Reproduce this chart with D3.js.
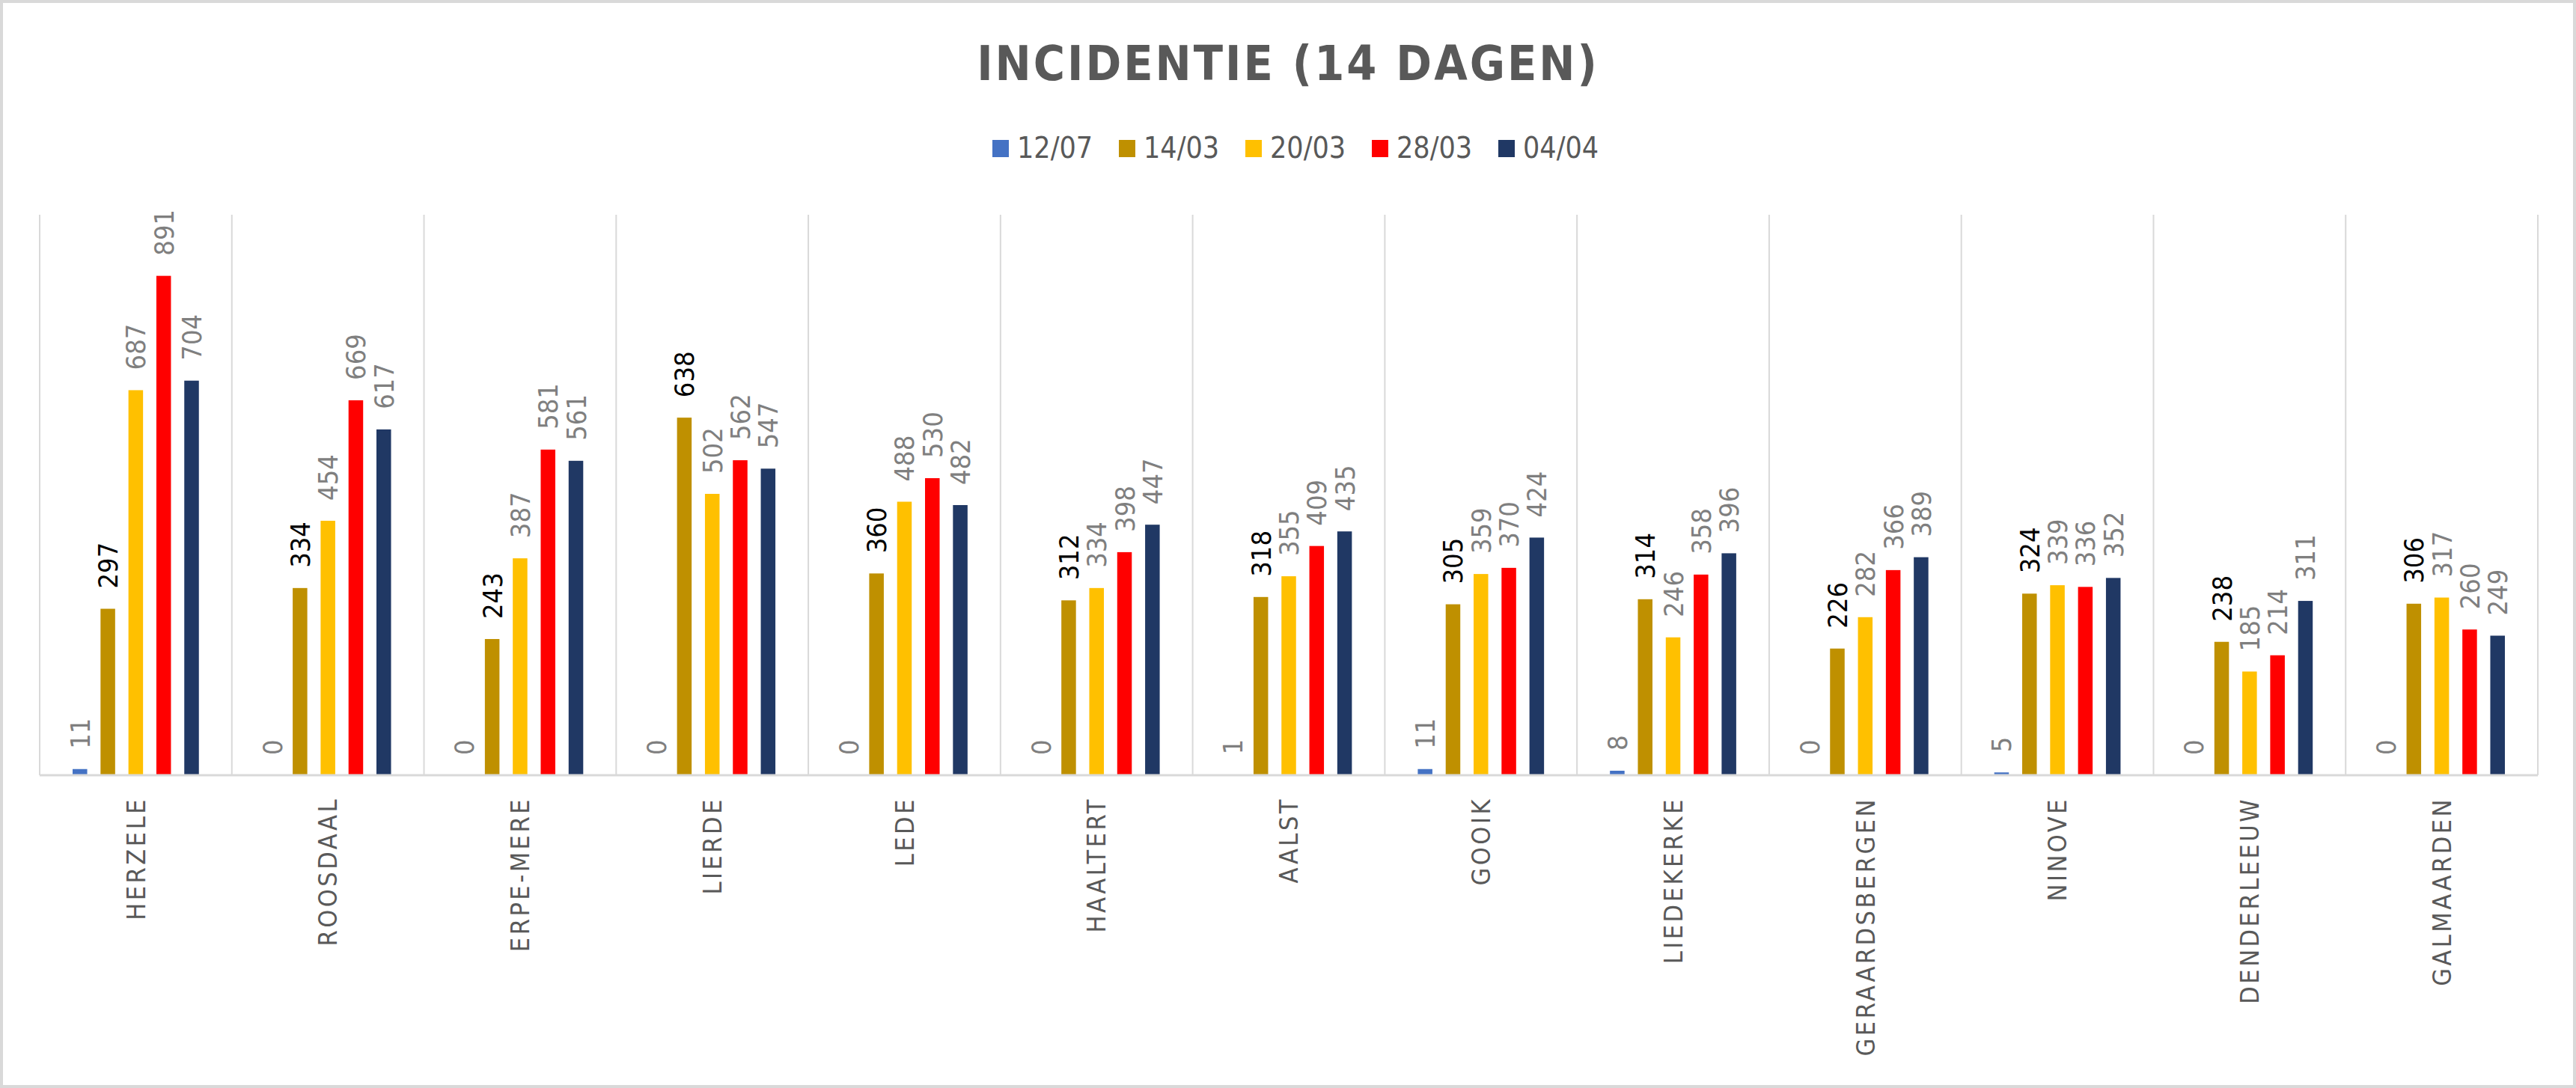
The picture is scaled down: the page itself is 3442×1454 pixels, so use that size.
<!DOCTYPE html>
<html>
<head>
<meta charset="utf-8">
<script src="https://cdn.jsdelivr.net/npm/d3@7"></script>
<style>
  body { margin: 0; background: #ffffff; }
  svg { display: block; }
</style>
</head>
<body>
<svg id="chart"></svg>
<script>
// Municipalities (x-axis categories)
var gemeenten = ["HERZELE", "ROOSDAAL", "ERPE-MERE", "LIERDE", "LEDE", "HAALTERT", "AALST",
                 "GOOIK", "LIEDEKERKE", "GERAARDSBERGEN", "NINOVE", "DENDERLEEUW", "GALMAARDEN"];

// Series (dates in the legend)
var datums = ["12/07", "14/03", "20/03", "28/03", "04/04"];

// Values per series, same order as gemeenten
var waarden1207 = [11, 0, 0, 0, 0, 0, 1, 11, 8, 0, 5, 0, 0];
var waarden1403 = [297, 334, 243, 638, 360, 312, 318, 305, 314, 226, 324, 238, 306];
var waarden2003 = [687, 454, 387, 502, 488, 334, 355, 359, 246, 282, 339, 185, 317];
var waarden2803 = [891, 669, 581, 562, 530, 398, 409, 370, 358, 366, 336, 214, 260];
var waarden0404 = [704, 617, 561, 547, 482, 447, 435, 424, 396, 389, 352, 311, 249];

var kleuren = ["#4472C4", "#BF9000", "#FFC000", "#FF0000", "#203864"];
var labelKleuren = ["#7f7f7f", "#000000", "#7f7f7f", "#7f7f7f", "#7f7f7f"];

var FONT = "'DejaVu Sans Condensed', 'Liberation Sans', Arial, sans-serif";

window.onload = function() {

  var W = 3442, H = 1454;
  var margin = {top: 287, right: 51, bottom: 418, left: 53};
  var width = W - margin.left - margin.right;
  var height = H - margin.top - margin.bottom;

  var svg = d3.select("#chart")
              .attr("width", W)
              .attr("height", H);

  // chart border
  svg.append("rect")
     .attr("x", 2).attr("y", 2)
     .attr("width", W - 4).attr("height", H - 4)
     .attr("fill", "#fff")
     .attr("stroke", "#d9d9d9")
     .attr("stroke-width", 4);

  // title
  svg.append("text")
     .attr("x", W / 2)
     .attr("y", 107)
     .attr("text-anchor", "middle")
     .attr("font-family", FONT)
     .attr("font-weight", "bold")
     .attr("font-size", 64)
     .attr("letter-spacing", 3)
     .attr("fill", "#595959")
     .text("INCIDENTIE (14 DAGEN)");

  // legend
  var legend = svg.append("g").attr("transform", "translate(1326,187)");
  var items = legend.selectAll("g")
                    .data(datums)
                    .enter()
                    .append("g")
                    .attr("transform", function(d, i) { return "translate(" + (i * 169) + ",0)"; });
  items.append("rect")
       .attr("width", 22).attr("height", 23)
       .attr("fill", function(d, i) { return kleuren[i]; });
  items.append("text")
       .attr("x", 33).attr("y", 24)
       .attr("font-family", FONT)
       .attr("font-size", 39)
       .attr("fill", "#595959")
       .text(function(d) { return d; });

  var g = svg.append("g")
             .attr("transform", "translate(" + margin.left + "," + margin.top + ")");

  // scales
  var x0 = d3.scaleBand()
             .domain(gemeenten)
             .range([0, width])
             .padding(0);

  var x1 = d3.scaleBand()
             .domain(datums)
             .range([0, x0.bandwidth()])
             .paddingInner(0.477)
             .paddingOuter(1.18);

  var y = d3.scaleLinear()
            .domain([0, 1000])
            .range([height, 0]);

  // vertical separators between categories
  var grenzen = gemeenten.map(function(d) { return x0(d); }).concat([width]);
  g.selectAll("line.sep")
   .data(grenzen)
   .enter()
   .append("line")
   .attr("class", "sep")
   .attr("x1", function(d) { return d; })
   .attr("x2", function(d) { return d; })
   .attr("y1", 0)
   .attr("y2", height)
   .attr("stroke", "#d9d9d9")
   .attr("stroke-width", 2);

  // build rows for the bars
  var reeksen = [waarden1207, waarden1403, waarden2003, waarden2803, waarden0404];
  var rijen = [];
  gemeenten.forEach(function(gem, i) {
    reeksen.forEach(function(r, j) {
      rijen.push({gemeente: gem, datum: datums[j], waarde: r[i], idx: j});
    });
  });

  g.selectAll("rect.bar")
   .data(rijen)
   .enter()
   .append("rect")
   .attr("class", "bar")
   .attr("x", function(d) { return x0(d.gemeente) + x1(d.datum); })
   .attr("y", function(d) { return y(d.waarde); })
   .attr("width", x1.bandwidth())
   .attr("height", function(d) { return height - y(d.waarde); })
   .attr("fill", function(d) { return kleuren[d.idx]; });

  // data labels, rotated
  g.selectAll("text.lbl")
   .data(rijen)
   .enter()
   .append("text")
   .attr("class", "lbl")
   .attr("transform", function(d) {
     var cx = x0(d.gemeente) + x1(d.datum) + x1.bandwidth() / 2;
     return "translate(" + cx + "," + (y(d.waarde) - 27) + ") rotate(-90)";
   })
   .attr("dy", "0.36em")
   .attr("font-family", FONT)
   .attr("font-size", 36)
   .attr("fill", function(d) { return labelKleuren[d.idx]; })
   .text(function(d) { return d.waarde; });

  // x axis line
  g.append("line")
   .attr("x1", 0).attr("x2", width)
   .attr("y1", height).attr("y2", height)
   .attr("stroke", "#d9d9d9")
   .attr("stroke-width", 3);

  // category labels
  g.selectAll("text.cat")
   .data(gemeenten)
   .enter()
   .append("text")
   .attr("class", "cat")
   .attr("transform", function(d) {
     return "translate(" + (x0(d) + x0.bandwidth() / 2) + "," + (height + 29) + ") rotate(-90)";
   })
   .attr("text-anchor", "end")
   .attr("dy", "0.36em")
   .attr("font-family", FONT)
   .attr("font-size", 34)
   .attr("letter-spacing", 3.5)
   .attr("fill", "#595959")
   .text(function(d) { return d; });
};
</script>
</body>
</html>
